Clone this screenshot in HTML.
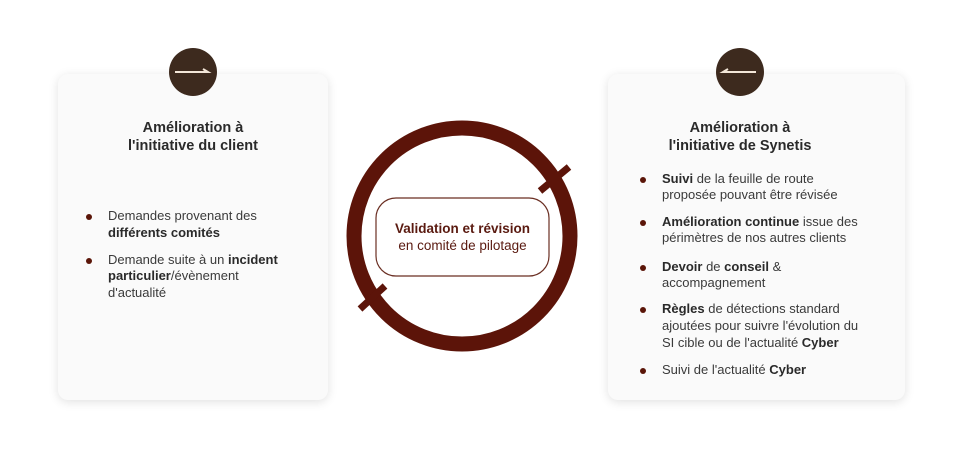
<!DOCTYPE html>
<html><head><meta charset="utf-8"><style>
body{margin:0;width:976px;height:462px;background:#fff;position:relative;overflow:hidden;font-family:"Liberation Sans",sans-serif;color:#3a3a3a}
.card{position:absolute;background:#fafafa;border-radius:10px;box-shadow:0 2px 10px rgba(0,0,0,0.12)}
.t{position:absolute;font-size:13px;white-space:nowrap;line-height:16px}
.h{position:absolute;font-size:14.5px;font-weight:bold;color:#2a2a2a;text-align:center;line-height:18px}
.b{position:absolute;width:6px;height:6px;border-radius:50%;background:#5a1508}
b{color:#2a2a2a}
.dot{position:absolute;width:48px;height:48px;border-radius:50%;background:#3d2a1e}
</style></head><body>
<div class="card" style="left:58px;top:74px;width:270px;height:326px"></div>
<div class="card" style="left:608px;top:74px;width:297px;height:326px"></div>
<div class="dot" style="left:169px;top:48px"></div>
<div class="dot" style="left:716px;top:48px"></div>
<svg style="position:absolute;left:0;top:0" width="976" height="462">
<path d="M175 72 H208 L203 69" stroke="#f3e6d8" stroke-width="2" fill="none"/>
<path d="M756 72 H723 L728 69" stroke="#f3e6d8" stroke-width="2" fill="none"/>
<circle cx="462" cy="236" r="108" fill="none" stroke="#5c1409" stroke-width="15"/>
<path d="M540 191 L569 167" stroke="#5c1409" stroke-width="7" fill="none"/>
<path d="M360 309 L385 286" stroke="#5c1409" stroke-width="7" fill="none"/>
<rect x="376" y="198" width="173" height="78" rx="20" fill="#fff" stroke="#6a2e22" stroke-width="1.2"/>
</svg>
<div class="t" style="left:376px;width:173px;text-align:center;top:221px;font-weight:bold;color:#5a1a10;font-size:13.5px">Validation et révision</div>
<div class="t" style="left:376px;width:173px;text-align:center;top:238px;color:#5a1a10;font-size:13.5px">en comité de pilotage</div>

<div class="h" style="left:93px;width:200px;top:119px">Amélioration à<br>l'initiative du client</div>
<div class="b" style="left:86px;top:214px"></div>
<div class="t" style="left:108px;top:208px">Demandes provenant des</div>
<div class="t" style="left:108px;top:225px"><b>différents comités</b></div>
<div class="b" style="left:86px;top:258px"></div>
<div class="t" style="left:108px;top:252px">Demande suite à un <b>incident</b></div>
<div class="t" style="left:108px;top:268px"><b>particulier</b>/évènement</div>
<div class="t" style="left:108px;top:285px">d'actualité</div>

<div class="h" style="left:640px;width:200px;top:119px">Amélioration à<br>l'initiative de Synetis</div>
<div class="b" style="left:640px;top:177px"></div>
<div class="t" style="left:662px;top:171px"><b>Suivi</b> de la feuille de route</div>
<div class="t" style="left:662px;top:187px">proposée pouvant être révisée</div>
<div class="b" style="left:640px;top:220px"></div>
<div class="t" style="left:662px;top:214px"><b>Amélioration continue</b> issue des</div>
<div class="t" style="left:662px;top:230px">périmètres de nos autres clients</div>
<div class="b" style="left:640px;top:265px"></div>
<div class="t" style="left:662px;top:259px"><b>Devoir</b> de <b>conseil</b> &amp;</div>
<div class="t" style="left:662px;top:275px">accompagnement</div>
<div class="b" style="left:640px;top:307px"></div>
<div class="t" style="left:662px;top:301px"><b>Règles</b> de détections standard</div>
<div class="t" style="left:662px;top:318px">ajoutées pour suivre l'évolution du</div>
<div class="t" style="left:662px;top:335px">SI cible ou de l'actualité <b>Cyber</b></div>
<div class="b" style="left:640px;top:368px"></div>
<div class="t" style="left:662px;top:362px">Suivi de l'actualité <b>Cyber</b></div>
</body></html>
